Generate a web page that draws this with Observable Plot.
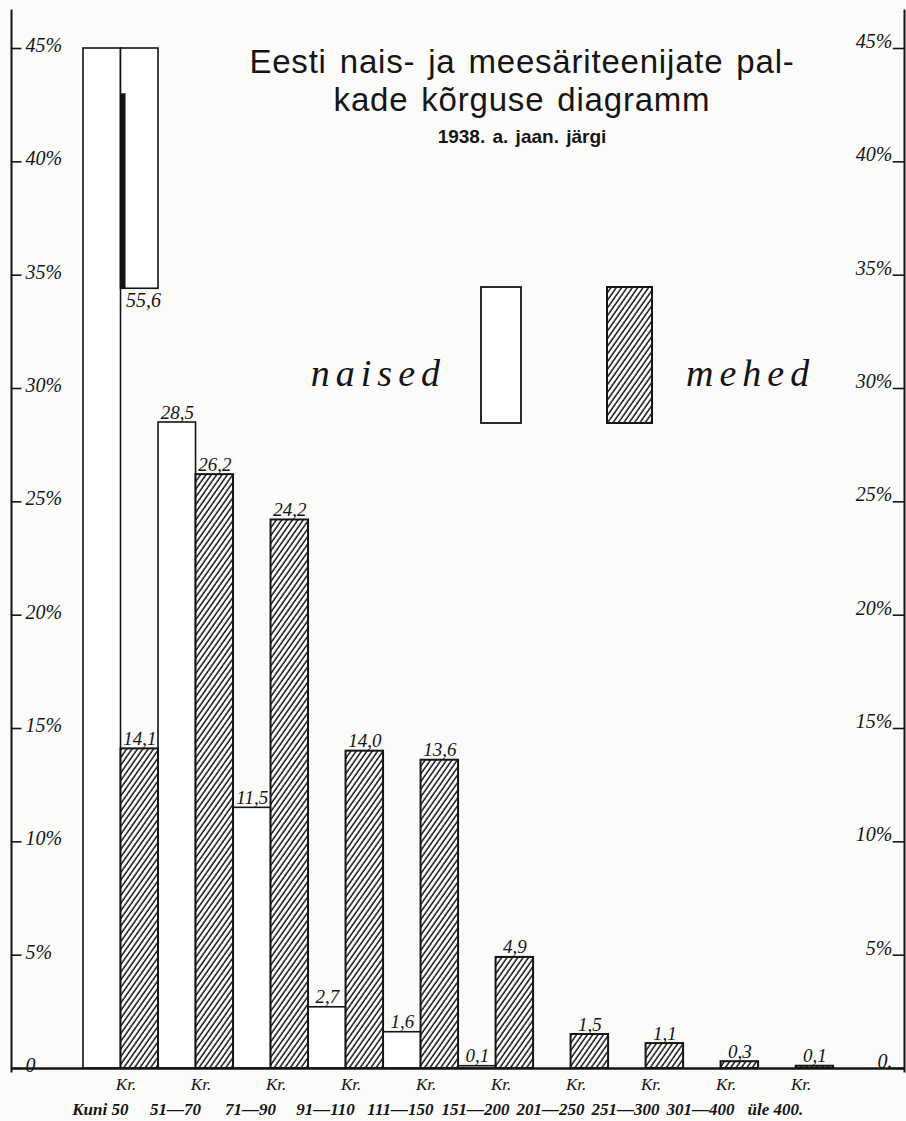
<!DOCTYPE html>
<html>
<head>
<meta charset="utf-8">
<script src="https://cdn.jsdelivr.net/npm/d3@7"></script>
<script src="https://cdn.jsdelivr.net/npm/@observablehq/plot@0.6"></script>
<style>
  html, body { margin: 0; padding: 0; background: #fbfbfa; }
  #wrap { position: relative; width: 906px; height: 1121px; overflow: hidden; }
  #wrap > svg { position: absolute; left: 0; top: 0; }
  .ttl { position: absolute; left: 222px; width: 600px; text-align: center;
         font-family: "Liberation Sans", Arial, sans-serif; color: #151515; }
  #legend { position: absolute; left: 0; top: 0; }
</style>
</head>
<body>
<div id="wrap">
  <div class="ttl" style="top:43px;font-size:33px;line-height:38px;letter-spacing:0.8px;word-spacing:3px;">Eesti nais- ja meesäriteenijate pal-<br>kade kõrguse diagramm</div>
  <div class="ttl" style="top:125px;font-size:19px;line-height:24px;font-weight:bold;word-spacing:2px;">1938. a. jaan. järgi</div>
</div>
<script>
// ---------- data ----------
const categories = ["Kuni 50", "51—70", "71—90", "91—110", "111—150", "151—200", "201—250", "251—300", "301—400", "üle 400."];
const unitLabels = ["Kr.", "Kr.", "Kr.", "Kr.", "Kr.", "Kr.", "Kr.", "Kr.", "Kr.", "Kr."];
const naised = [55.6, 28.5, 11.5, 2.7, 1.6, 0.1, null, null, null, null];
const mehed  = [14.1, 26.2, 24.2, 14.0, 13.6, 4.9, 1.5, 1.1, 0.3, 0.1];
const yTicks = [0, 5, 10, 15, 20, 25, 30, 35, 40, 45];
const leftTickLabels  = ["0", "5%", "10%", "15%", "20%", "25%", "30%", "35%", "40%", "45%"];
const rightTickLabels = ["0.", "5%", "10%", "15%", "20%", "25%", "30%", "35%", "40%", "45%"];
const seriesNames = ["naised", "mehed"];
const yMax = 45;

// ---------- derived tables ----------
const women = categories.map((c, i) => ({cat: c, i, v: naised[i], x1: 2 * i, x2: 2 * i + 1}))
  .filter(d => d.v != null);
const men = categories.map((c, i) => ({cat: c, i, v: mehed[i], x1: 2 * i + 1, x2: 2 * i + 2}));
const overflow = women.filter(d => d.v > yMax)
  .map(d => ({...d, x1: d.x2, x2: d.x2 + 1, y1: 2 * yMax - d.v, y2: yMax}));
const visible = women.filter(d => d.v <= yMax).concat(men);
const cats = categories.map((c, i) => ({cat: c, i, unit: unitLabels[i]}));
const ticks = yTicks.map((t, i) => ({t, left: leftTickLabels[i], right: rightTickLabels[i]}));
const fmt = v => v.toFixed(1).replace(".", ",");

const xMin = -1.92, xMax = 21.89;
const hand = "'Liberation Serif', 'DejaVu Serif', serif";
const ink = "#141414";

const plot = Plot.plot({
  width: 906,
  height: 1121,
  marginTop: 48,
  marginBottom: 53,
  marginLeft: 11,
  marginRight: 2,
  style: {background: "transparent", color: ink, overflow: "visible"},
  x: {type: "linear", domain: [xMin, xMax], axis: null},
  y: {domain: [0, yMax], axis: null},
  marks: [
    // women bars (white)
    Plot.rect(women, {x1: "x1", x2: "x2", y1: 0, y2: d => Math.min(d.v, yMax),
      fill: "white", stroke: ink, strokeWidth: 1.6}),
    // folded-over part of the bar that exceeds the scale
    Plot.rect(overflow, {x1: "x1", x2: "x2", y1: "y1", y2: "y2",
      fill: "white", stroke: ink, strokeWidth: 1.6}),
    Plot.ruleX(overflow, {x: "x1", y1: "y1", y2: d => d.y2 - 2, stroke: ink, strokeWidth: 5, dx: 2}),
    Plot.text(overflow, {x: "x1", y: "y1", text: d => fmt(d.v), textAnchor: "start", lineAnchor: "top",
      dx: 5, dy: 4, fontFamily: hand, fontStyle: "italic", fontSize: 20, letterSpacing: 1}),
    // men bars (hatched)
    Plot.rect(men, {x1: "x1", x2: "x2", y1: 0, y2: "v",
      fill: "url(#hatch)", stroke: ink, strokeWidth: 2}),
    // value labels
    Plot.text(visible, {x: d => (d.x1 + d.x2) / 2, y: "v", text: d => fmt(d.v), lineAnchor: "bottom",
      dy: -4, fontFamily: hand, fontStyle: "italic", fontSize: 19, letterSpacing: 1.5}),
    // baseline and vertical axis lines
    Plot.ruleY([0], {stroke: ink, strokeWidth: 2.5}),
    Plot.ruleX([xMin, xMax], {y1: -0.2, y2: 46.7, stroke: ink, strokeWidth: 2}),
    // left ticks + labels
    Plot.ruleY(ticks, {y: "t", x1: xMin, x2: xMin + 0.28, stroke: ink, strokeWidth: 1.6}),
    Plot.text(ticks, {y: "t", x: xMin, text: "left", textAnchor: "start", dx: 14, dy: -3,
      fontFamily: hand, fontStyle: "italic", fontSize: 20}),
    // right ticks + labels
    Plot.ruleY(ticks, {y: "t", x1: xMax - 0.3, x2: xMax, stroke: ink, strokeWidth: 1.6}),
    Plot.text(ticks, {y: "t", x: xMax, text: "right", textAnchor: "end", dx: -12, dy: -7,
      fontFamily: hand, fontStyle: "italic", fontSize: 20}),
    // category labels
    Plot.text(cats, {x: d => 2 * d.i + 1, y: 0, text: "unit", dx: 5, dy: 16,
      fontFamily: hand, fontStyle: "italic", fontSize: 17}),
    Plot.text(cats, {x: d => 2 * d.i + 0.45, y: 0, text: "cat", dy: 41,
      fontFamily: "'Liberation Serif', serif", fontStyle: "italic", fontWeight: "bold", fontSize: 17})
  ]
});

function addHatch(svgNode, id) {
  const s = d3.select(svgNode);
  const defs = s.insert("defs", ":first-child");
  const p = defs.append("pattern").attr("id", id).attr("patternUnits", "userSpaceOnUse")
    .attr("width", 4.4).attr("height", 4.4).attr("patternTransform", "rotate(35)");
  p.append("rect").attr("width", 4.4).attr("height", 4.4).attr("fill", "white");
  p.append("line").attr("x1", 1).attr("y1", 0).attr("x2", 1).attr("y2", 4.4)
    .attr("stroke", ink).attr("stroke-width", 1.5);
}
addHatch(plot, "hatch");
const wrap = document.getElementById("wrap");
wrap.insertBefore(plot, wrap.firstChild);

// ---------- legend (absolutely positioned over the plot) ----------
const lg = d3.select(wrap).append("svg").attr("id", "legend").attr("width", 906).attr("height", 500);
addHatch(lg.node(), "hatch2");
lg.append("rect").attr("x", 481).attr("y", 287).attr("width", 40).attr("height", 136)
  .attr("fill", "white").attr("stroke", ink).attr("stroke-width", 1.8);
lg.append("rect").attr("x", 607).attr("y", 287).attr("width", 45).attr("height", 136)
  .attr("fill", "url(#hatch2)").attr("stroke", ink).attr("stroke-width", 2);
lg.append("text").attr("x", 446).attr("y", 386).attr("text-anchor", "end")
  .attr("font-family", hand).attr("font-style", "italic").attr("font-size", 38)
  .attr("letter-spacing", 6).attr("fill", ink).text(seriesNames[0]);
lg.append("text").attr("x", 686).attr("y", 386).attr("text-anchor", "start")
  .attr("font-family", hand).attr("font-style", "italic").attr("font-size", 38)
  .attr("letter-spacing", 6).attr("fill", ink).text(seriesNames[1]);
</script>
</body>
</html>
